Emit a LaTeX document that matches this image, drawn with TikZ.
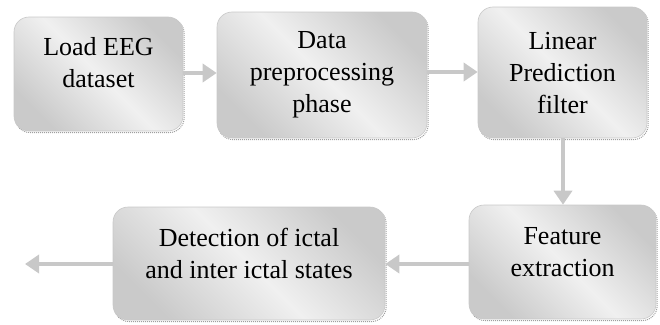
\documentclass[tikz,border=0pt]{standalone}
\usepackage{fontspec}
\setmainfont{Liberation Serif}
\usetikzlibrary{arrows.meta}
\definecolor{arrowgray}{HTML}{C8C8C8}
\definecolor{boxedge}{HTML}{C8C8C8}
\definecolor{boxdark}{HTML}{CACACA}
\definecolor{boxlight}{HTML}{F0F0F0}
\begin{document}
\begin{tikzpicture}[x=1pt,y=-1pt,
  box/.style={rounded corners=15pt, draw=boxedge, line width=0.6pt,
    top color=boxdark, bottom color=boxdark, middle color=boxlight,
    shading angle=135, minimum width=#1, inner sep=0pt},
  shadowbox/.style={rounded corners=15pt, draw=gray!75, densely dotted, line width=1pt, inner sep=0pt},
  label/.style={font=\fontsize{26}{32}\selectfont, align=center, text=black, inner sep=0pt},
  flow/.style={draw=arrowgray, line width=3.5pt, -{Triangle[length=14pt,width=18pt]}}
]
\useasboundingbox (0,0) rectangle (660,324);
% shadows
\foreach \cx/\cy/\w/\h in {98.5/74/169/114, 322/75/210/126, 562.5/72.5/169/131, 562.5/262/187/114, 249/263.5/272/113}{
  \node[shadowbox, minimum width=\w pt, minimum height=\h pt] at (\cx+1.2,\cy+1.6) {};
}
% boxes
\node[box=169pt, minimum height=114pt] (b1) at (98.5,74) {};
\node[box=210pt, minimum height=126pt] (b2) at (322,75) {};
\node[box=169pt, minimum height=131pt] (b3) at (562.5,72.5) {};
\node[box=187pt, minimum height=114pt] (b4) at (562.5,262) {};
\node[box=272pt, minimum height=113pt] (b5) at (249,263.5) {};
\coordinate (out) at (25,264);
% texts
\node[label] (t1) at (98.5,63) {Load EEG\\dataset};
\node[label] (t2) at (322,75) {Data\\preprocessing\\phase};
\node[label] (t3) at (562.5,73) {Linear\\Prediction\\filter};
\node[label] (t4) at (562.5,252) {Feature\\extraction};
\node[label] (t5) at (249,253) {Detection of ictal\\and inter ictal states};
% connectors
\draw[flow] (b1.east |- 0,73) -- (b2.west |- 0,73);
\draw[flow] (b2.east |- 0,72) -- (b3.west |- 0,72);
\draw[flow] (563,138) -- (b4.north -| 563,0);
\draw[flow] (b4.west |- 0,264) -- (b5.east |- 0,264);
\draw[flow] (b5.west |- 0,264) -- (out);
\end{tikzpicture}
\end{document}
